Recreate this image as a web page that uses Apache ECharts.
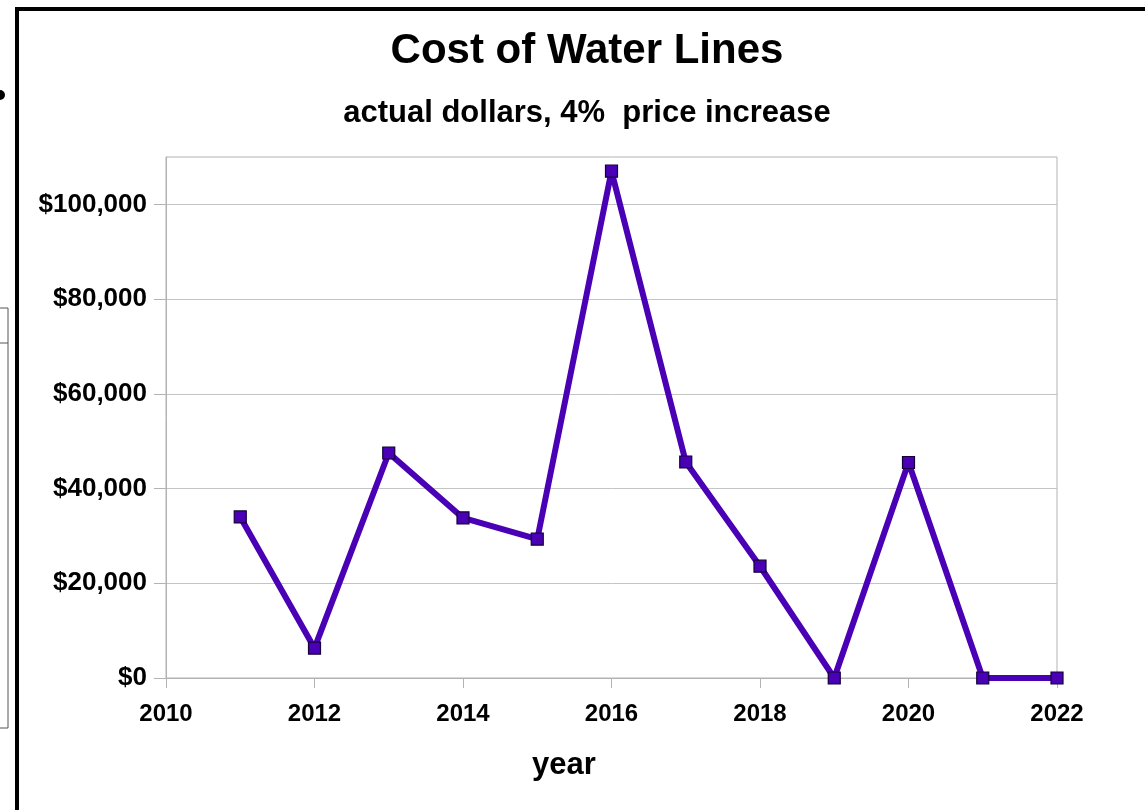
<!DOCTYPE html>
<html>
<head>
<meta charset="utf-8">
<script src="https://cdn.jsdelivr.net/npm/echarts@6/dist/echarts.min.js"></script>
<style>
html,body{margin:0;padding:0;background:#fff;}
#chart{width:1145px;height:810px;}
</style>
</head>
<body>
<div id="chart"></div>
<script>
const years = [2011, 2012, 2013, 2014, 2015, 2016, 2017, 2018, 2019, 2020, 2021, 2022];
const costs = [34000, 6300, 47500, 33800, 29300, 107000, 45600, 23600, 0, 45500, 0, 0];
const yTicks = [0, 20000, 40000, 60000, 80000, 100000];
const xTicks = [2010, 2012, 2014, 2016, 2018, 2020, 2022];
const titleText = 'Cost of Water Lines';
const subtitleText = 'actual dollars, 4%  price increase';
const xName = 'year';

const FONT = '"Liberation Sans", Arial, sans-serif';
const chart = echarts.init(document.getElementById('chart'));
const seriesData = years.map((y, i) => [y, costs[i]]);

chart.setOption({
  animation: false,
  backgroundColor: '#ffffff',
  title: [
    { text: titleText, left: 582, top: 25, textAlign: 'center',
      textStyle: { fontFamily: FONT, fontWeight: 'bold', fontSize: 42, color: '#000' } },
    { text: subtitleText, left: 582, top: 93, textAlign: 'center',
      textStyle: { fontFamily: FONT, fontWeight: 'bold', fontSize: 31, color: '#000' } }
  ],
  grid: { left: 166, top: 157, right: 88, bottom: 132, show: true, borderColor: '#b3b3b3', borderWidth: 1, backgroundColor: 'transparent' },
  xAxis: {
    type: 'value', min: 2010, max: 2022, interval: 2,
    axisLine: { show: true, lineStyle: { color: '#b3b3b3', width: 1 } },
    axisTick: { show: true, inside: false, length: 10, lineStyle: { color: '#b3b3b3' } },
    splitLine: { show: false },
    axisLabel: { margin: 24, fontFamily: FONT, fontWeight: 'bold', fontSize: 24, color: '#000',
      customValues: xTicks, formatter: v => String(v) }
  },
  yAxis: {
    type: 'value', min: 0, max: 110000, interval: 20000,
    axisLine: { show: true, lineStyle: { color: '#b3b3b3', width: 1 } },
    axisTick: { show: true, inside: false, length: 12, lineStyle: { color: '#b3b3b3' }, customValues: yTicks },
    splitLine: { show: true, lineStyle: { color: '#c4c4c4', width: 1 } },
    axisLabel: { margin: 19, fontFamily: FONT, fontWeight: 'bold', fontSize: 26, color: '#000',
      customValues: yTicks,
      formatter: v => v > 100000 ? '' : '$' + v.toLocaleString('en-US') }
  },
  graphic: [
    { type: 'rect', silent: true, z: 100, shape: { x: 17, y: 9, width: 1300, height: 1000 },
      style: { fill: 'none', stroke: '#000', lineWidth: 4 } },
    { type: 'circle', silent: true, shape: { cx: 0, cy: 95, r: 5 }, style: { fill: '#000' } },
    { type: 'rect', silent: true, shape: { x: -5, y: 308, width: 13, height: 420 },
      style: { fill: 'none', stroke: '#555', lineWidth: 1 } },
    { type: 'line', silent: true, shape: { x1: 0, y1: 343, x2: 8, y2: 343 },
      style: { stroke: '#555', lineWidth: 1 } },
    { type: 'text', silent: true, style: { text: xName, x: 564, y: 765, align: 'center', verticalAlign: 'middle',
      font: 'bold 31px ' + FONT, fill: '#000' } }
  ],
  series: [{
    type: 'line',
    data: seriesData,
    symbol: 'rect',
    symbolSize: 12,
    lineStyle: { color: '#4a00b4', width: 6 },
    itemStyle: { color: '#4a00b4', borderColor: '#14003a', borderWidth: 1.2 },
    z: 3
  }]
});
</script>
</body>
</html>
